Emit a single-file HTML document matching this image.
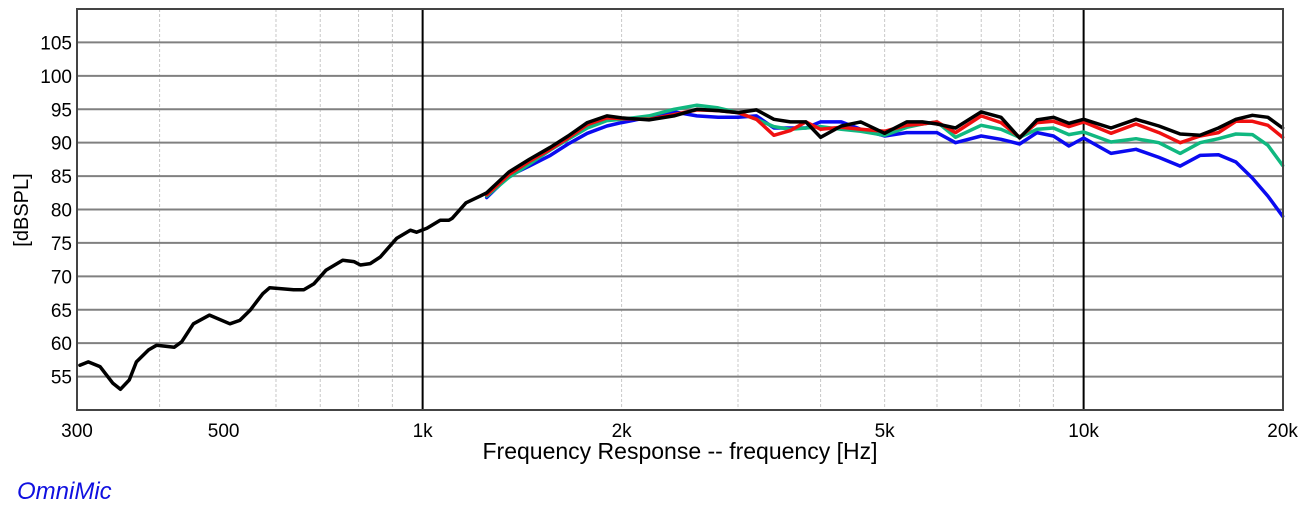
<!DOCTYPE html>
<html><head><meta charset="utf-8"><style>
html,body{margin:0;padding:0;background:#fff;}
svg{display:block;font-family:"Liberation Sans",Arial,sans-serif;}
</style></head><body>
<svg id="chart" width="1300" height="506" viewBox="0 0 1300 506" xmlns="http://www.w3.org/2000/svg">
<rect x="0" y="0" width="1300" height="506" fill="#fff"/>
<g id="grid"></g>
<g id="series"></g>
<rect x="77" y="9" width="1206" height="401" fill="none" stroke="#444" stroke-width="2"/>
<g id="labels"></g>
<text x="680" y="459" font-size="23" text-anchor="middle" fill="#000">Frequency Response -- frequency [Hz]</text>
<text transform="translate(28,210) rotate(-90)" font-size="20" text-anchor="middle" fill="#000">[dBSPL]</text>
<text x="17" y="499" font-size="24" font-style="italic" fill="#1010e0">OmniMic</text>
</svg>
<script>
const yTicks=[55,60,65,70,75,80,85,90,95,100,105];
const xTickVals=[300,500,1000,2000,5000,10000,20000];
const xTickLabels=["300","500","1k","2k","5k","10k","20k"];
const minorFreqs=[400,600,700,800,900,2000,3000,4000,5000,6000,7000,8000,9000];
const majorFreqs=[1000,10000];
const lowFreq=[303,312,325,340,349,360,369,385,396,421,432,450,476,511,529,548,573,587,638,661,685,714,757,787,805,833,863,914,958,979,1015,1063,1096,1109,1163,1222];
const lowBlack=[56.7,57.2,56.5,54.0,53.1,54.5,57.2,59.0,59.7,59.4,60.2,62.9,64.2,62.9,63.4,64.9,67.4,68.3,68.0,68.0,68.9,70.9,72.4,72.2,71.7,71.9,72.9,75.7,76.9,76.6,77.2,78.4,78.4,78.7,81,82];
const hiFreq=[1250,1350,1450,1560,1660,1775,1900,2000,2200,2400,2600,2800,3000,3200,3400,3600,3800,4000,4300,4600,5000,5400,5700,6000,6400,7000,7500,8000,8500,9000,9500,10000,11000,12000,13000,14000,15000,16000,17000,18000,19000,20000];
const blackHi=[82.5,85.6,87.5,89.3,91,93,94,93.7,93.4,94,95,94.8,94.5,94.9,93.5,93.1,93.1,90.8,92.5,93.1,91.4,93.1,93.1,92.8,92.2,94.6,93.8,90.7,93.4,93.8,92.9,93.5,92.2,93.5,92.5,91.3,91.1,92.2,93.5,94.1,93.8,92.2];
const redHi=[82.2,85.2,87.2,89,90.7,92.7,93.7,93.6,93.5,94.2,94.9,94.8,94.5,93.5,91.1,91.8,93.1,92,92.3,92,91.7,92.6,92.8,93.1,91.5,94,93,90.8,93,93.2,92.4,93.1,91.4,92.8,91.5,90,91,91.5,93.2,93.2,92.6,90.8];
const greenHi=[82,84.8,86.8,88.9,90.5,92.2,93.3,93.5,94,95,95.6,95.2,94.5,93.5,92.4,92,92.2,92.4,92,91.7,91.1,92.3,92.8,93.1,90.8,92.6,92,90.8,92,92.2,91.2,91.6,90.1,90.6,90,88.4,90,90.6,91.3,91.2,89.6,86.6];
const blueHi=[81.8,85,86.5,88.1,89.8,91.4,92.5,93,93.8,94.6,94,93.8,93.8,94,92.2,92.2,92.2,93.1,93.1,92,91,91.5,91.5,91.5,90,91,90.5,89.8,91.5,91,89.5,90.7,88.4,89,87.8,86.5,88.1,88.2,87.1,84.7,82,79];

const NS="http://www.w3.org/2000/svg";
const PL=77,PR=1283,PT=9,PB=410,YMIN=50,YMAX=110;
function xs(f){return PL+661*Math.log10(f/300);}
function ys(v){return PB-(v-YMIN)/(YMAX-YMIN)*(PB-PT);}
const grid=document.getElementById('grid');
const labels=document.getElementById('labels');
const series=document.getElementById('series');
function mk(tag,attrs,parent){const e=document.createElementNS(NS,tag);for(const k in attrs)e.setAttribute(k,attrs[k]);parent.appendChild(e);return e;}
minorFreqs.forEach(f=>{
  const l=mk('line',{x1:xs(f),x2:xs(f),y1:PT,y2:PB,stroke:'#c8c8c8','stroke-width':1,'stroke-dasharray':'3,2'},grid);
  
  
});
yTicks.forEach(v=>{
  const l=mk('line',{x1:PL,x2:PR,y1:ys(v),y2:ys(v),stroke:'#808080','stroke-width':2},grid);
  
  
  const t=mk('text',{x:72,y:ys(v)+7,'font-size':19,'text-anchor':'end',fill:'#000'},labels);
  t.textContent=v;
  
  
});
majorFreqs.forEach(f=>{
  const l=mk('line',{x1:xs(f),x2:xs(f),y1:PT,y2:PB,stroke:'#000','stroke-width':2},grid);
  
  
});
xTickVals.forEach((f,i)=>{
  const t=mk('text',{x:xs(f),y:437,'font-size':19,'text-anchor':'middle',fill:'#000'},labels);
  t.textContent=xTickLabels[i];
  
  
});
function path(freqs,vals){return freqs.map((f,i)=>(i?'L':'M')+xs(f).toFixed(1)+','+ys(vals[i]).toFixed(1)).join(' ');}
const defs=[["blue",'#0a0af0',hiFreq,blueHi],["green",'#10b880',hiFreq,greenHi],["red",'#f01010',hiFreq,redHi],["black",'#000',lowFreq.concat(hiFreq),lowBlack.concat(blackHi)]];
defs.forEach(d=>{
  const p=mk('path',{d:path(d[2],d[3]),fill:'none',stroke:d[1],'stroke-width':3.5,'stroke-linejoin':'round','stroke-linecap':'round'},series);
  
  
});
</script>
</body></html>
